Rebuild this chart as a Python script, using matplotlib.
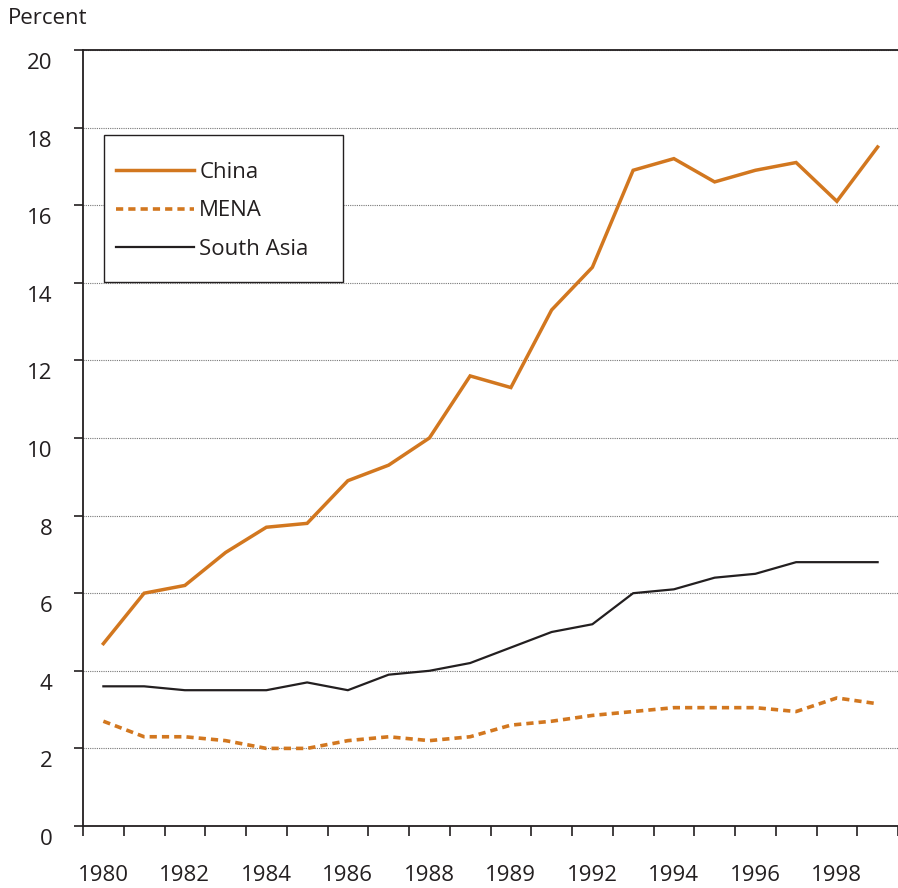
import matplotlib
matplotlib.use("Agg")
import matplotlib.pyplot as plt
from matplotlib.patches import Rectangle
from matplotlib.transforms import ScaledTranslation

# data (percent)
years = list(range(1980, 2000))
china = [4.7, 6.0, 6.2, 7.05, 7.7, 7.8, 8.9, 9.3, 10.0, 11.6,
         11.3, 13.3, 14.4, 16.9, 17.2, 16.6, 16.9, 17.1, 16.1, 17.5]
mena = [2.7, 2.3, 2.3, 2.2, 2.0, 2.0, 2.2, 2.3, 2.2, 2.3,
        2.6, 2.7, 2.85, 2.95, 3.05, 3.05, 3.05, 2.95, 3.3, 3.15]
south_asia = [3.6, 3.6, 3.5, 3.5, 3.5, 3.7, 3.5, 3.9, 4.0, 4.2,
              4.6, 5.0, 5.2, 6.0, 6.1, 6.4, 6.5, 6.8, 6.8, 6.8]
# the original labels (incl. the "1989" in the 1990 slot)
xtick_labels = ["1980", "1982", "1984", "1986", "1988", "1989",
                "1992", "1994", "1996", "1998"]

orange = "#D2771F"
dark = "#231F20"

plt.rcParams['font.family'] = ['Open Sans', 'DejaVu Sans']

fig = plt.figure(figsize=(8.98, 8.88), dpi=100)
ax = fig.add_axes([83 / 898, 62 / 888, 815 / 898, 776 / 888])

x = list(range(len(years)))
ax.plot(x, china, color=orange, lw=2.5, label="China", solid_joinstyle="miter")
ax.plot(x, mena, color=orange, lw=2.6, linestyle=(0, (2.0, 1.4)),
        dash_capstyle="butt", label="MENA")
ax.plot(x, south_asia, color=dark, lw=1.6, label="South Asia")

ax.set_ylim(0, 20)
ax.set_xlim(-0.5, 19.5 - 5.5 / 41)

# gridlines
ax.set_yticks(range(0, 21, 2))
ax.yaxis.grid(True, color="#777777", lw=0.8, linestyle=(0, (1, 1)))
ax.set_axisbelow(True)

# ticks at category boundaries, labels at centres of every other year
ax.set_xticks([i - 0.5 for i in range(len(years) + 1)])
ax.set_xticklabels([])
ax.set_xticks(list(range(0, len(years), 2)), minor=True)
ax.set_xticklabels(xtick_labels, minor=True)
ax.tick_params(axis="x", which="major", direction="out", length=7.5,
               width=1.2, color=dark)
ax.tick_params(axis="x", which="minor", length=0, pad=28, labelsize=16,
               labelcolor=dark)
ax.tick_params(axis="y", direction="out", length=6.5, width=1.2, color=dark,
               pad=15.5, labelsize=16, labelcolor=dark)

# y labels sit a little below their ticks in the original
shift = ScaledTranslation(0, -11 / 100, fig.dpi_scale_trans)
for lab in ax.get_yticklabels():
    lab.set_transform(lab.get_transform() + shift)

for side in ["left", "bottom", "top"]:
    ax.spines[side].set_color(dark)
    ax.spines[side].set_linewidth(1.3)
ax.spines["right"].set_visible(False)

fig.text(8 / 898, 1 - 18 / 888, "Percent", fontsize=16, color=dark,
         va="center", ha="left")

# legend box drawn separately so the entries can sit close to its left edge
box = Rectangle((21 / 815, 544 / 776), 239 / 815, 147 / 776, transform=ax.transAxes,
                facecolor="white", edgecolor=dark, lw=1.0, zorder=4)
ax.add_patch(box)
leg = ax.legend(loc="upper left", bbox_to_anchor=(33 / 815, 664 / 776),
                borderaxespad=0, borderpad=0, fontsize=16, handlelength=3.5,
                handletextpad=0.25, labelspacing=0.78, frameon=False)
leg.set_zorder(5)
for t in leg.get_texts():
    t.set_color(dark)

fig.savefig("out.png", dpi=100)
